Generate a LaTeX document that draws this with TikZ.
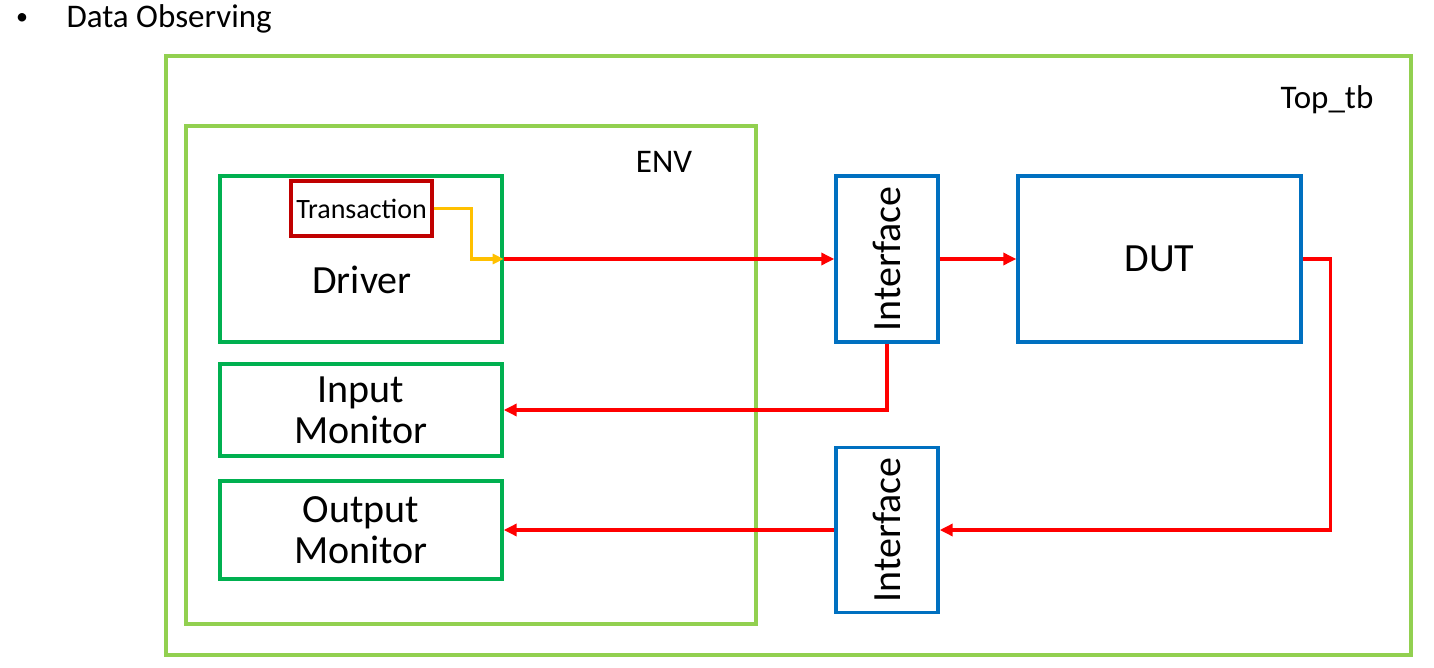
\documentclass[tikz,border=0pt]{standalone}
\usepackage{fontspec}
\setmainfont{Carlito}
\usetikzlibrary{arrows.meta}
\definecolor{lgreen}{RGB}{146,208,80}
\definecolor{dgreen}{RGB}{0,176,80}
\definecolor{dred}{RGB}{192,0,0}
\definecolor{iblue}{RGB}{0,112,192}
\definecolor{ared}{RGB}{255,0,0}
\definecolor{ayel}{RGB}{255,192,0}
\tikzset{
  box/.style={draw, line width=3.4pt, inner sep=0pt, minimum width=#1},
  frame/.style={box=#1, draw=lgreen},
  comp/.style={box=#1, draw=dgreen},
  ifbox/.style={box=#1, draw=iblue},
  big/.style={font=\fontsize{40}{41}\selectfont},
  mid/.style={font=\fontsize{33}{36}\selectfont},
  sig/.style={draw=ared, line width=4.5pt, -{Triangle[length=13pt,width=12pt]}},
  sigthin/.style={draw=ared, line width=3.3pt, -{Triangle[length=13pt,width=12pt]}},
  txarrow/.style={draw=ayel, line width=3.3pt, -{Triangle[length=11pt,width=10pt]}},
}
\begin{document}
\begin{tikzpicture}[x=1pt,y=-1pt]
\useasboundingbox (0,0) rectangle (1434,668);
% title
\node[font=\fontsize{24}{26}\selectfont, anchor=base] (bullet) at (22,25) {•};
\node[mid, anchor=base west] (title) at (63,28) {Data Observing};
% frames
\node[frame=1245pt, minimum height=599pt] (top) at (788.5,355.5) {};
\node[mid] (toplabel) at (1327,100) {Top\_tb};
\node[frame=570pt, minimum height=498pt] (env) at (471,375) {};
\node[mid] (envlabel) at (664,162) {ENV};
% components
\node[comp=282pt, minimum height=166pt] (driver) at (361,259) {};
\node[big] (driverlabel) at (362,280) {Driver};
\node[box=141pt, draw=dred, minimum height=55pt, font=\fontsize{28}{30}\selectfont] (trans) at (361.5,208.5) {Transaction};
\node[comp=282pt, minimum height=92pt, big, align=center] (inmon) at (361,410) {Input\\Monitor};
\node[comp=282pt, minimum height=98pt, big, align=center] (outmon) at (361,530) {Output\\Monitor};
\node[ifbox=102pt, minimum height=166pt] (if1) at (887,259) {};
\node[big, rotate=90] (if1label) at (887,259) {Interface};
\node[ifbox=283pt, minimum height=166pt, big] (dut) at (1159.5,259) {DUT};
\node[ifbox=102pt, minimum height=165pt] (if2) at (887,530) {};
\node[big, rotate=90] (if2label) at (887,530) {Interface};
% connectors
\draw[txarrow] (trans.east) -- ++(38,0) |- (driver.east);
\draw[sig] (driver.east) -- (if1.west);
\draw[sig] (if1.east) -- (dut.west);
\draw[sigthin] (dut.east) -- ++(28,0) |- (if2.east);
\draw[sigthin] (if1.south) |- (inmon.east);
\draw[sig] (if2.west) -- (outmon.east);
\end{tikzpicture}
\end{document}
